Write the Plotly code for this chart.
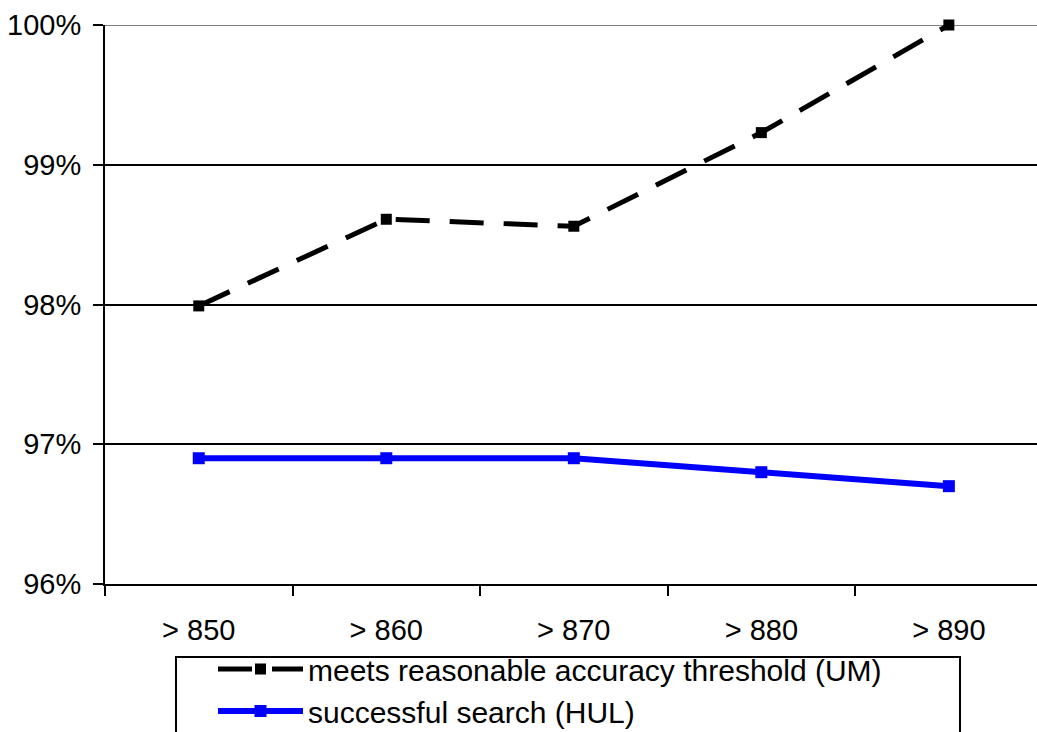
import plotly.graph_objects as go

categories = ["> 850", "> 860", "> 870", "> 880", "> 890"]
um_values = [97.99, 98.61, 98.56, 99.23, 100.0]
hul_values = [96.9, 96.9, 96.9, 96.8, 96.7]
y_ticks = [96, 97, 98, 99, 100]
y_ticktext = ["96%", "97%", "98%", "99%", "100%"]

FONT = "Liberation Sans, Arial, sans-serif"

fig = go.Figure()
fig.add_trace(go.Scatter(
    x=categories, y=um_values, mode="lines+markers",
    name="meets reasonable accuracy threshold (UM)",
    line=dict(color="black", width=5, dash="34px,20px"),
    marker=dict(symbol="square", size=11, color="black"),
    cliponaxis=False,
))
fig.add_trace(go.Scatter(
    x=categories, y=hul_values, mode="lines+markers",
    name="successful search (HUL)",
    line=dict(color="#0000ff", width=6),
    marker=dict(symbol="square", size=12, color="#0000ff"),
    cliponaxis=False,
))

fig.update_layout(
    width=1037, height=732,
    margin=dict(l=105, r=0, t=25, b=148, pad=0, autoexpand=False),
    paper_bgcolor="white", plot_bgcolor="white",
    font=dict(family=FONT, size=29, color="black"),
    showlegend=True,
    legend=dict(
        x=(213 - 105) / 932, y=(584 - 643) / 559, xanchor="left", yanchor="top",
        borderwidth=0, bgcolor="rgba(0,0,0,0)",
        font=dict(family=FONT, size=30, color="black"),
        itemwidth=85, tracegroupgap=0,
    ),
)
fig.update_xaxes(
    type="category", range=[-0.5, 4.47], tickson="boundaries",
    ticks="outside", ticklen=10, tickwidth=2, tickcolor="black",
    showgrid=False, showline=True, linecolor="black", linewidth=2,
    tickfont=dict(family=FONT, size=29), ticklabelstandoff=19,
    tickangle=0, zeroline=False,
)
fig.update_yaxes(
    range=[96, 100], tickvals=y_ticks, ticktext=y_ticktext,
    ticks="outside", ticklen=10, tickwidth=2, tickcolor="black",
    showgrid=True, gridcolor="black", gridwidth=2,
    showline=True, linecolor="black", linewidth=2,
    tickfont=dict(family=FONT, size=29), ticklabelstandoff=6,
    zeroline=False,
)
fig.add_shape(type="line", xref="paper", yref="y", x0=0, x1=1, y0=100, y1=100,
              line=dict(color="#808080", width=2), layer="below")
# legend frame
fig.add_shape(type="rect", xref="paper", yref="paper",
              x0=(176 - 105) / 932, x1=(960 - 105) / 932,
              y0=(584 - 760) / 559, y1=(584 - 657) / 559,
              line=dict(color="black", width=2), fillcolor="rgba(0,0,0,0)")

fig.write_html("out.html")
